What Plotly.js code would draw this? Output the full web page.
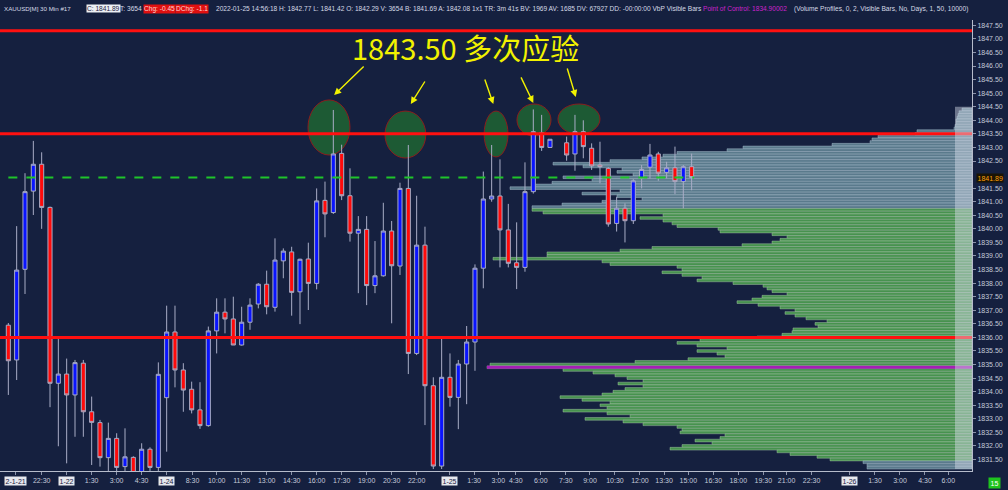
<!DOCTYPE html>
<html><head><meta charset="utf-8">
<script src="https://cdn.plot.ly/plotly-3.0.1.min.js"></script>
<style>html,body{margin:0;padding:0;background:#15203f;}#chart{width:1008px;height:490px;}</style>
</head><body><div id="chart"></div><script>
// ---- candle data (30 Min XAUUSD) ----
const barIndex = [1,2,3,4,5,6,7,8,9,10,11,12,13,14,15,16,17,18,19,20,21,22,23,24,25,26,27,28,29,30,31,32,33,34,35,36,37,38,39,40,41,42,43,44,45,46,47,48,49,50,51,52,53,54,55,56,57,58,59,60,61,62,63,64,65,66,68,69,70,71,72,73,74,75,76,77,78,79,80,81,82,83];
const openP = [1836.45,1835.17,1838.51,1841.39,1842.38,1840.79,1834.31,1834.65,1833.88,1835.05,1833.26,1832.86,1831.57,1832.28,1831.24,1831.58,1830.95,1831.88,1831.21,1833.78,1836.20,1834.80,1834.09,1833.33,1832.75,1836.24,1836.93,1836.68,1835.72,1836.56,1837.23,1837.96,1837.11,1838.82,1839.15,1837.68,1838.89,1837.99,1841.05,1840.60,1842.78,1841.22,1839.84,1839.98,1837.91,1838.27,1839.92,1838.63,1841.49,1835.41,1839.40,1834.22,1831.26,1834.53,1833.79,1835.02,1835.83,1838.55,1841.10,1841.21,1839.96,1838.75,1838.58,1841.37,1843.54,1843.00,1843.17,1842.76,1843.58,1842.97,1842.35,1842.23,1840.20,1840.76,1840.30,1841.86,1842.27,1842.76,1842.08,1842.25,1841.74,1842.29];
const highP = [1836.53,1840.10,1842.05,1843.24,1842.82,1840.82,1835.97,1835.22,1835.17,1835.17,1833.82,1832.96,1832.86,1832.47,1832.65,1831.62,1832.10,1831.95,1835.08,1837.17,1837.17,1835.05,1834.37,1834.35,1836.40,1837.44,1837.44,1837.50,1837.13,1837.44,1838.00,1838.46,1839.65,1839.28,1839.34,1838.90,1839.49,1841.49,1841.74,1844.38,1843.10,1842.23,1840.47,1840.47,1839.55,1840.96,1840.29,1841.70,1843.09,1841.22,1840.08,1834.53,1836.05,1835.41,1835.17,1836.42,1838.69,1842.11,1843.09,1842.56,1840.92,1840.24,1842.45,1844.40,1844.20,1843.30,1843.40,1844.20,1844.00,1843.15,1843.21,1842.27,1841.18,1840.94,1841.83,1842.35,1843.13,1842.84,1842.47,1843.03,1842.35,1842.77];
const lowP = [1833.88,1834.43,1837.60,1840.51,1840.00,1833.43,1831.99,1831.36,1832.34,1832.34,1831.30,1831.24,1831.00,1830.95,1831.00,1830.80,1830.80,1831.00,1831.05,1831.79,1834.16,1833.26,1833.20,1832.63,1832.71,1835.41,1836.15,1835.72,1835.70,1836.28,1837.07,1836.85,1836.95,1838.18,1836.80,1836.49,1837.01,1837.77,1839.69,1840.55,1841.06,1839.53,1837.63,1837.19,1837.63,1838.24,1836.52,1838.30,1834.65,1835.35,1832.77,1831.15,1831.15,1833.45,1832.62,1833.54,1834.77,1837.81,1841.00,1838.58,1838.58,1837.78,1838.42,1841.30,1842.87,1843.00,1842.51,1842.14,1842.60,1842.17,1841.68,1840.08,1839.90,1839.50,1840.18,1841.49,1841.86,1841.77,1841.86,1841.28,1840.76,1841.42];
const closeP = [1835.14,1838.48,1841.37,1842.38,1840.79,1834.31,1834.65,1833.88,1835.07,1833.26,1832.87,1831.57,1832.28,1831.21,1831.60,1830.95,1831.88,1831.21,1834.64,1836.20,1834.80,1834.06,1833.33,1832.75,1836.24,1836.93,1836.68,1835.72,1836.56,1837.19,1837.96,1837.13,1838.85,1839.18,1837.66,1838.88,1837.99,1841.03,1840.55,1842.76,1841.22,1839.84,1839.98,1837.91,1838.27,1839.92,1838.64,1841.49,1835.41,1839.40,1834.22,1831.26,1834.53,1833.79,1835.02,1835.83,1838.55,1841.10,1841.21,1839.96,1838.73,1838.58,1841.37,1843.58,1843.00,1843.30,1842.72,1843.58,1843.03,1842.32,1842.29,1840.18,1840.76,1840.30,1841.77,1842.19,1842.72,1842.05,1842.25,1841.74,1842.29,1841.89];

// ---- volume profile (visible bars) ----
const profilePrice = [1844.4,1844.3,1844.2,1844.1,1844.0,1843.9,1843.8,1843.7,1843.6,1843.5,1843.4,1843.3,1843.2,1843.1,1843.0,1842.9,1842.8,1842.7,1842.6,1842.5,1842.4,1842.3,1842.2,1842.1,1842.0,1841.9,1841.8,1841.7,1841.6,1841.5,1841.4,1841.3,1841.2,1841.1,1841.0,1840.9,1840.8,1840.7,1840.6,1840.5,1840.4,1840.3,1840.2,1840.1,1840.0,1839.9,1839.8,1839.7,1839.6,1839.5,1839.4,1839.3,1839.2,1839.1,1839.0,1838.9,1838.8,1838.7,1838.6,1838.5,1838.4,1838.3,1838.2,1838.1,1838.0,1837.9,1837.8,1837.7,1837.6,1837.5,1837.4,1837.3,1837.2,1837.1,1837.0,1836.9,1836.8,1836.7,1836.6,1836.5,1836.4,1836.3,1836.2,1836.1,1836.0,1835.9,1835.8,1835.7,1835.6,1835.5,1835.4,1835.3,1835.2,1835.1,1835.0,1834.9,1834.8,1834.7,1834.6,1834.5,1834.4,1834.3,1834.2,1834.1,1834.0,1833.9,1833.8,1833.7,1833.6,1833.5,1833.4,1833.3,1833.2,1833.1,1833.0,1832.9,1832.8,1832.7,1832.6,1832.5,1832.4,1832.3,1832.2,1832.1,1832.0,1831.9,1831.8,1831.7,1831.6,1831.5,1831.4,1831.3,1831.2];
const profileVolume = [10,13,14,15,16,16,17,18,55,57,94,100,102,140,229,245,295,309,330,362,419,389,350,355,339,409,380,420,437,462,352,390,355,330,370,410,440,440,429,309,332,309,300,295,254,252,200,185,192,200,230,320,352,425,425,479,370,362,295,290,310,290,270,275,239,209,205,200,185,210,220,235,214,192,177,187,177,166,145,157,154,179,180,190,215,272,295,275,245,275,255,247,284,337,482,485,409,379,357,345,329,354,329,347,359,370,412,390,362,372,365,409,365,342,387,349,329,295,290,292,247,252,277,260,290,302,195,182,155,142,109,105,105];
const valueAreaHigh = 1840.7;
const valueAreaLow = 1831.5;

// ---- levels ----
const levelLines = [1847.3, 1843.5, 1836.0];
const currentPrice = 1841.89;

// ---- axis labels ----
const timeTickPos = [5,11,14,17,23.1,26,29,32,35,38,41,44,47,50,56.9,59.8,61.9,64.9,67.9,70.8,73.8,76.8,79.7,82.6,85.6,88.6,91.6,94.4,97.4,105,108,111,113.8];
const timeTickText = ["22:30","1:30","3:00","4:30","8:30","10:00","11:30","13:00","14:30","16:00","17:30","19:00","20:30","22:00","1:30","3:00","4:30","6:00","7:30","9:00","10:30","12:00","13:30","15:00","16:30","18:00","19:30","21:00","22:30","1:30","3:00","4:30","6:00"];
const dateTickPos = [1.8,8,20,54,102];
const dateTickText = ["2-1-21","1-22","1-24","1-25","1-26"];
const priceTicks = [1831.5,1832,1832.5,1833,1833.5,1834,1834.5,1835,1835.5,1836,1836.5,1837,1837.5,1838,1838.5,1839,1839.5,1840,1840.5,1841,1841.5,1842.5,1843,1843.5,1844,1844.5,1845,1845.5,1846,1846.5,1847,1847.5];

// ---- highlighted tests of 1843.50: [barStart, barEnd, priceLow, priceHigh] ----
const testZones = [[36.96,42.0,1842.72,1844.75],[46.2,51.1,1842.61,1844.34],[58.1,60.96,1842.65,1844.34],[62.04,66.12,1843.42,1844.6],[66.96,72.0,1843.49,1844.6]];
const arrowHeads = [[40.1,1844.93],[49.3,1844.60],[59.2,1844.60],[64.0,1844.64],[69.1,1844.86]];
const arrowTails = [[31,-30],[15,-24],[-9,-26],[-13,-27],[-9,-30]];

const PW = 972;
const inVA = p => (p <= valueAreaHigh + 1e-9 && p >= valueAreaLow - 1e-9);
const profColors = profilePrice.map(p => inVA(p) ? '#47924f' : '#5a7a8c');
const profLine = profilePrice.map(p => inVA(p) ? 'rgba(170,200,170,0.75)' : 'rgba(170,190,205,0.75)');

let pocI = 0; profileVolume.forEach((v,i)=>{ if (v > profileVolume[pocI]) pocI = i; });

const traces = [
  {type:'bar', orientation:'h', x: profileVolume, y: profilePrice, xaxis:'x', yaxis:'y',
   width: 0.1, marker:{color: profColors, line:{color: profLine, width:0.6}}, hoverinfo:'skip', showlegend:false},
  {type:'candlestick', x: barIndex, open: openP, high: highP, low: lowP, close: closeP, xaxis:'x2', yaxis:'y',
   increasing:{fillcolor:'#0a14ff', line:{color:'#a9adc6', width:1}},
   decreasing:{fillcolor:'#ff0a0a', line:{color:'#a9adc6', width:1}},
   whiskerwidth:0, showlegend:false, hoverinfo:'skip'}
];

const shapes = [];
testZones.forEach(z => shapes.push({type:'circle', xref:'x2', yref:'y', x0:z[0], x1:z[1], y0:z[2], y1:z[3],
  fillcolor:'#1d5a34', line:{color:'#8a1d1d', width:1}, layer:'below'}));
levelLines.forEach(l => shapes.push({type:'line', xref:'paper', yref:'y', x0:0, x1:1, y0:l, y1:l,
  line:{color:'#ff1010', width:3}, layer:'above'}));
shapes.push({type:'line', xref:'x', yref:'y', x0:profileVolume[pocI], x1:0, y0:profilePrice[pocI], y1:profilePrice[pocI],
  line:{color:'#a51fb5', width:3}, layer:'above'});
shapes.push({type:'line', xref:'x2', yref:'y', x0:barIndex[0], x1:barIndex[barIndex.length-1]+0.3, y0:currentPrice, y1:currentPrice,
  line:{color:'#1fc42a', width:2, dash:'dash'}, layer:'above'});
shapes.push({type:'rect', xref:'x', yref:'y', x0:0, x1:17, y0:1831.15, y1:1844.5,
  fillcolor:'rgba(215,222,235,0.45)', line:{width:0}, layer:'above'});

const annotations = [];
const HF = 'Liberation Sans, Arial';
// header pieces [px, text, color, bg]
const header = [
  [3,'XAUUSD[M] 30 Min #17','#d6dae6',null],
  [86,'C: 1841.89','#1a2040','#eceff4'],[119,'T: 3654','#d6dae6',null],
  [143,'Chg: -0.45','#ffd6d6','#e01010'],[175,'DChg: -1.1','#ffd6d6','#e01010'],
  [215,'2022-01-25 14:56:18 H: 1842.77 L: 1841.42 O: 1842.29 V: 3654 B: 1841.69 A: 1842.08 1x1 TR: 3m 41s BV: 1969 AV: 1685 DV: 67927 DD: -00:00:00 VbP Visible Bars','#d6dae6',null],
  [702,'Point of Control: 1834.90002','#cc22cc',null],
  [793,'(Volume Profiles, 0, 2, Visible Bars, No, Days, 1, 50, 10000)','#d6dae6',null]
];
header.forEach((h,i) => {
  const a = {xref:'paper', yref:'paper', x:h[0]/PW, y:1+(20-9)/451, xanchor:'left', yanchor:'middle', showarrow:false,
    text:h[1], font:{family:HF, size: i===0 ? 6.2 : 6.6, color:h[2]}, borderpad:0};
  if (h[3]) a.bgcolor = h[3];
  annotations.push(a);
});
// title
annotations.push({xref:'paper', yref:'paper', x:465/PW, y:1-(47-20)/451, xanchor:'center', yanchor:'middle', showarrow:false,
  text:'1843.50 多次应验', font:{family:'Noto Sans CJK SC, Noto Sans', size:29, color:'#f2f200'}});
arrowHeads.forEach((h,i) => annotations.push({xref:'x2', yref:'y', x:h[0], y:h[1], axref:'pixel', ayref:'pixel',
  ax:arrowTails[i][0], ay:arrowTails[i][1], text:'', showarrow:true, arrowhead:2, arrowsize:1, arrowwidth:1.4, arrowcolor:'#f2f200'}));
// date labels
dateTickPos.forEach((p,i) => annotations.push({xref:'x2', yref:'paper', x:p, y:-0.012, xanchor:'center', yanchor:'top', showarrow:false,
  text:dateTickText[i], bgcolor:'#e6e8ee', font:{family:'Liberation Sans, Arial', size:7, color:'#1a2040'}, borderpad:0.5}));
// current price label
annotations.push({xref:'paper', yref:'y', x:1.004, y:currentPrice, xanchor:'left', yanchor:'middle', showarrow:false,
  text:currentPrice.toFixed(2), bgcolor:'#1b1405', font:{family:'Liberation Sans, Arial', size:7, color:'#ffa20a'}, borderpad:0.5});
annotations.push({xref:'paper', yref:'paper', x:994/PW, y:-(483-471)/451, xanchor:'center', yanchor:'middle', showarrow:false,
  text:'15', bgcolor:'#1ec41e', font:{family:'Liberation Sans, Arial', size:7, color:'#ffffff'}, borderpad:1.5});

const layout = {
  width:1008, height:490,
  margin:{l:0, r:36, t:20, b:19, pad:0},
  paper_bgcolor:'#15203f', plot_bgcolor:'#15203f',
  showlegend:false, bargap:0,
  xaxis:{range:[PW,0], visible:false, fixedrange:true, showgrid:false, zeroline:false},
  xaxis2:{overlaying:'x', side:'bottom', range:[0, PW/8.333], showgrid:false, zeroline:false,
    tickmode:'array', tickvals: timeTickPos.concat(dateTickPos), ticktext: timeTickText.concat(dateTickText.map(()=>'')),
    ticks:'outside', ticklen:3, tickcolor:'#8a92aa', showline:true, linecolor:'#b6bccb', linewidth:1,
    tickfont:{family:'Liberation Sans, Arial', size:7, color:'#c4cada'}, rangeslider:{visible:false}},
  yaxis:{side:'right', range:[1831.078,1847.695], showgrid:false, zeroline:false, tickmode:'array',
    tickvals: priceTicks, ticktext: priceTicks.map(v=>v.toFixed(2)), ticks:'outside', ticklen:3, tickcolor:'#8a92aa',
    showline:true, linecolor:'#b6bccb', linewidth:1, tickfont:{family:'Liberation Sans, Arial', size:7, color:'#c4cada'}},
  shapes: shapes, annotations: annotations
};
Plotly.newPlot('chart', traces, layout, {displayModeBar:false, staticPlot:true});
</script></body></html>
